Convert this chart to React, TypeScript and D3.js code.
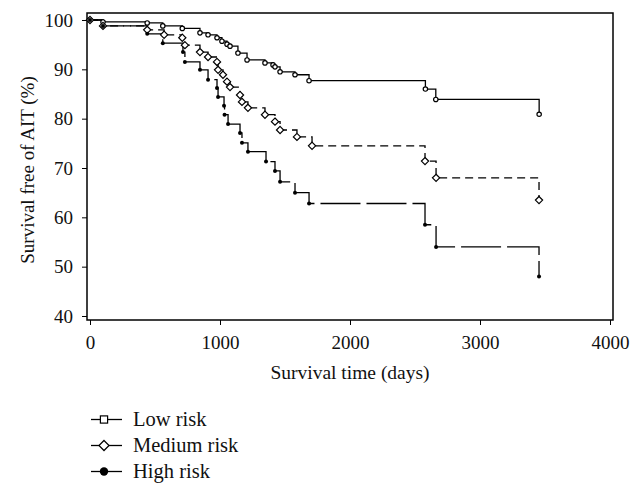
import React, { useEffect, useRef } from 'react';
import * as d3 from 'd3';

// step points: time (days) and survival (%) after each drop
const lowTimes = [0, 100, 440, 560, 710, 846, 908, 977, 1015, 1054, 1077, 1138, 1208, 1346, 1408, 1423, 1462, 1577, 1685, 2580, 2660, 3455];
const lowSurv = [100, 99.6, 99.4, 98.8, 98.3, 97.4, 97.0, 96.4, 95.7, 95.1, 94.7, 93.3, 91.9, 91.3, 90.9, 90.5, 89.5, 88.9, 87.7, 86.0, 83.9, 80.9];

const medTimes = [0, 100, 440, 570, 710, 730, 846, 908, 977, 985, 1023, 1054, 1077, 1154, 1169, 1215, 1346, 1423, 1462, 1592, 1708, 2577, 2662, 3454];
const medSurv = [100, 98.8, 98.0, 97.0, 96.4, 94.9, 93.5, 92.5, 91.5, 89.9, 88.9, 87.5, 86.4, 84.8, 83.4, 82.2, 80.8, 79.4, 77.7, 76.3, 74.5, 71.4, 68.0, 63.5];

const highTimes = [0, 100, 440, 560, 715, 730, 846, 908, 977, 985, 1031, 1035, 1062, 1154, 1169, 1215, 1354, 1423, 1462, 1577, 1685, 2577, 2662, 3454];
const highSurv = [100, 98.8, 97.2, 95.3, 93.5, 91.5, 89.9, 87.9, 86.2, 84.4, 82.6, 80.8, 78.9, 77.1, 75.1, 73.3, 71.3, 69.4, 67.2, 65.0, 62.8, 58.5, 54.0, 48.0];

const xTicks = [0, 1000, 2000, 3000, 4000];
const yTicks = [40, 50, 60, 70, 80, 90, 100];
const legendLabels = ['Low risk', 'Medium risk', 'High risk'];

const FONT = '"Liberation Serif", "Times New Roman", serif';

const App = () => {
  const ref = useRef<SVGSVGElement>(null);

  useEffect(() => {
    const svg = d3.select(ref.current);
    svg.selectAll('*').remove();

    const x = d3.scaleLinear().domain([0, 4000]).range([90, 610]);
    const y = d3.scaleLinear().domain([40, 100]).range([316, 20]);
    const frame = { left: 87, right: 613, top: 13, bottom: 320 };

    // axes
    const xAxis = svg.append('g').attr('transform', `translate(0,${frame.bottom})`);
    xAxis.call(d3.axisBottom(x).tickValues(d3.range(0, 4001, 200)).tickSize(5).tickFormat(() => ''));
    xAxis.call(d3.axisBottom(x).tickValues(xTicks).tickSize(5).tickSizeOuter(0).tickPadding(11).tickFormat(d3.format('d')));
    xAxis.selectAll('.domain').remove();

    const yAxis = svg.append('g').attr('transform', `translate(${frame.left},0)`);
    yAxis.call(d3.axisLeft(y).tickValues(d3.range(40, 101, 2)).tickSize(5).tickFormat(() => ''));
    yAxis.call(d3.axisLeft(y).tickValues(yTicks).tickSize(5).tickPadding(9).tickFormat(d3.format('d')));
    yAxis.selectAll('.domain').remove();

    svg.selectAll('.tick line').attr('stroke', '#000').attr('stroke-width', 1);
    svg.selectAll('.tick text')
      .attr('font-family', FONT)
      .attr('font-size', 19)
      .attr('fill', '#111');

    svg.append('rect')
      .attr('x', frame.left).attr('y', frame.top)
      .attr('width', frame.right - frame.left).attr('height', frame.bottom - frame.top)
      .attr('fill', 'none').attr('stroke', '#000').attr('stroke-width', 1.5);

    // titles
    svg.append('text')
      .attr('x', 350).attr('y', 379)
      .attr('text-anchor', 'middle')
      .attr('font-family', FONT).attr('font-size', 19.5).attr('fill', '#111')
      .text('Survival time (days)');
    svg.append('text')
      .attr('transform', `translate(34,170) rotate(-90)`)
      .attr('text-anchor', 'middle')
      .attr('font-family', FONT).attr('font-size', 19).attr('fill', '#111')
      .text('Survival free of AIT (%)');

    const series = [
      { t: lowTimes, v: lowSurv, dash: null, marker: 'circle' },
      { t: medTimes, v: medSurv, dash: '8,5', marker: 'diamond' },
      { t: highTimes, v: highSurv, dash: '40,6', marker: 'dot' },
    ];

    const line = d3.line<[number, number]>()
      .x(d => x(d[0]))
      .y(d => y(d[1]))
      .curve(d3.curveStepAfter);

    const drawMarker = (g: any, kind: string, cx: number, cy: number, s: number) => {
      if (kind === 'circle') {
        g.append('circle').attr('cx', cx).attr('cy', cy).attr('r', 2.2 * s)
          .attr('fill', '#fff').attr('stroke', '#000').attr('stroke-width', 1.2);
      } else if (kind === 'square') {
        g.append('rect').attr('x', cx - 3.6 * s).attr('y', cy - 3.6 * s).attr('width', 7.2 * s).attr('height', 7.2 * s)
          .attr('fill', '#fff').attr('stroke', '#000').attr('stroke-width', 1.2);
      } else if (kind === 'diamond') {
        const r = 3.6 * s;
        g.append('path').attr('d', `M${cx},${cy - r}L${cx + r},${cy}L${cx},${cy + r}L${cx - r},${cy}Z`)
          .attr('fill', '#fff').attr('stroke', '#000').attr('stroke-width', 1.2);
      } else {
        g.append('circle').attr('cx', cx).attr('cy', cy).attr('r', 2 * s).attr('fill', '#000');
      }
    };

    series.forEach(s => {
      const pts: [number, number][] = s.t.map((t, i) => [t, s.v[i]]);
      svg.append('path')
        .attr('d', line(pts))
        .attr('fill', 'none')
        .attr('stroke', '#000')
        .attr('stroke-width', 1.3)
        .attr('stroke-dasharray', s.dash);
    });
    series.forEach(s => {
      const g = svg.append('g');
      s.t.forEach((t, i) => drawMarker(g, s.marker, x(t), y(s.v[i]), 1));
    });

    // legend
    const legendMarkers = ['square', 'diamond', 'dot'];
    legendLabels.forEach((label, i) => {
      const ly = 419.5 + i * 26;
      const g = svg.append('g');
      g.append('line').attr('x1', 91).attr('x2', 122).attr('y1', ly).attr('y2', ly)
        .attr('stroke', '#000').attr('stroke-width', 1.3);
      drawMarker(g, legendMarkers[i], 104, ly, i === 0 ? 1 : i === 1 ? 1.4 : 2.1);
      g.append('text').attr('x', 133).attr('y', ly + 6.5)
        .attr('font-family', FONT).attr('font-size', 20.5).attr('fill', '#111')
        .text(label);
    });
  }, []);

  return (
    <div style={{ position: 'absolute', left: 0, top: 0 }}>
      <svg ref={ref} width={640} height={484} style={{ display: 'block', background: '#fff' }} />
    </div>
  );
};

export default App;
